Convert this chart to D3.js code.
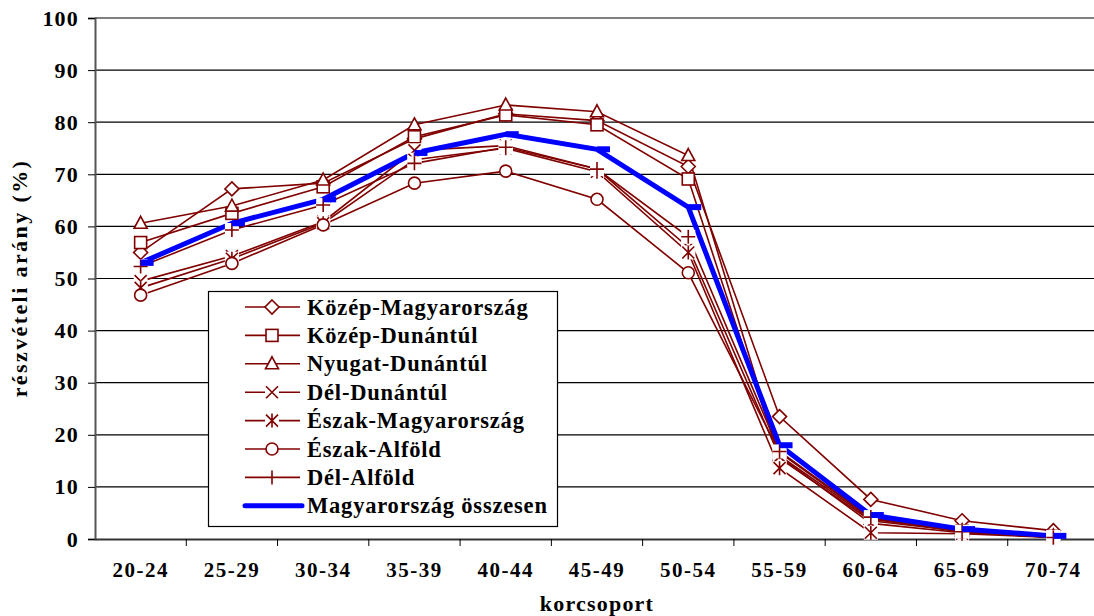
<!DOCTYPE html>
<html><head><meta charset="utf-8">
<script src="https://cdn.jsdelivr.net/npm/d3@7"></script>
<style>
html,body{margin:0;padding:0;background:#fff;}
svg text{font-family:"Liberation Serif","Times New Roman",serif !important;font-weight:bold;}
</style></head>
<body><svg id="c" width="1094" height="616"></svg>
<script>
// ---- data ----
const ageGroups = ["20-24","25-29","30-34","35-39","40-44","45-49","50-54","55-59","60-64","65-69","70-74"];
const seriesNames = ["Közép-Magyarország","Közép-Dunántúl","Nyugat-Dunántúl","Dél-Dunántúl","Észak-Magyarország","Észak-Alföld","Dél-Alföld","Magyarország összesen"];
const kozepMagyarorszag = [55.0, 67.2, 68.3, 76.8, 81.6, 80.3, 71.5, 23.5, 7.6, 3.5, 1.6];
const kozepDunantul     = [56.9, 62.5, 67.6, 77.2, 81.4, 79.5, 69.1, 15.5, 3.5, 1.5, 0.5];
const nyugatDunantul    = [60.6, 63.9, 68.9, 79.5, 83.3, 82.0, 73.6, 16.0, 3.8, 1.6, 0.6];
const delDunantul       = [49.5, 54.3, 60.9, 74.6, 75.5, 71.0, 56.0, 15.8, 3.0, 1.2, 0.4];
const eszakMagyarorszag = [48.2, 53.8, 60.6, 72.8, 75.0, 70.5, 55.0, 13.6, 1.2, 1.0, 0.3];
const eszakAlfold       = [46.8, 52.9, 60.3, 68.3, 70.6, 65.2, 51.1, 16.6, 4.0, 1.3, 0.3];
const delAlfold         = [52.3, 59.3, 64.1, 72.1, 75.2, 71.0, 58.0, 16.8, 4.2, 1.4, 0.3];
const magyarorszag      = [53.0, 60.6, 65.2, 74.1, 77.7, 74.8, 63.7, 18.0, 4.6, 1.9, 0.6];
const markerTypes = ["diamond","square","triangle","x","asterisk","circle","plus","dash"];
const yTicks = [0,10,20,30,40,50,60,70,80,90,100];
const xTitle = "korcsoport";
const yTitle = "részvételi arány (%)";

const allSeries = [kozepMagyarorszag,kozepDunantul,nyugatDunantul,delDunantul,eszakMagyarorszag,eszakAlfold,delAlfold,magyarorszag];

// ---- layout ----
const DARK = "#800000", BLUE = "#0000ff";
const svg = d3.select("#c");
const x = d3.scaleBand().domain(ageGroups).range([95, 1099]);
const y = d3.scaleLinear().domain([0,100]).range([539, 18]);
const cx = d => x(d) + x.bandwidth()/2;

// gridlines
svg.append("g").selectAll("line").data(yTicks.filter(t=>t>0)).join("line")
  .attr("x1",95).attr("x2",1094).attr("y1",d=>y(d)).attr("y2",d=>y(d))
  .attr("stroke","#000").attr("stroke-width",1.2);

// axes
const yAxis = d3.axisLeft(y).tickValues(yTicks).tickSize(7).tickPadding(9).tickFormat(d3.format("d"));
const gy = svg.append("g").attr("transform","translate(95,0)").call(yAxis);
gy.attr("font-family",null);
gy.select(".domain").attr("stroke","#555").attr("stroke-width",2);
gy.selectAll(".tick line").attr("stroke","#000");
gy.selectAll("text").attr("font-size",22).attr("fill","#000").attr("style","letter-spacing:1.2px");

const xAxis = d3.axisBottom(x).tickSize(0).tickPadding(23);
const gx = svg.append("g").attr("transform","translate(0,539)").call(xAxis);
gx.attr("font-family",null);
gx.select(".domain").attr("stroke","#333").attr("stroke-width",2);
gx.selectAll("text").attr("font-size",21).attr("fill","#000").attr("style","letter-spacing:1.5px");
// tick marks at band boundaries
svg.append("g").selectAll("line").data(ageGroups.slice(1)).join("line")
  .attr("x1",d=>x(d)).attr("x2",d=>x(d)).attr("y1",539).attr("y2",546)
  .attr("stroke","#000").attr("stroke-width",1);

// titles
svg.append("text").attr("x",597).attr("y",611).attr("text-anchor","middle")
  .attr("font-size",22).attr("style","letter-spacing:1.2px").text(xTitle);
svg.append("text").attr("transform","translate(27,278) rotate(-90)").attr("text-anchor","middle")
  .attr("font-size",22).attr("style","letter-spacing:2.4px").text(yTitle);

// lines
const line = d3.line().x((d,i)=>cx(ageGroups[i])).y(d=>y(d));
allSeries.forEach((s,k)=>{
  svg.append("path").attr("d",line(s)).attr("fill","none")
    .attr("stroke", k===7?BLUE:DARK).attr("stroke-width", k===7?5:1.6)
    .attr("stroke-linejoin","miter");
});

// markers
function marker(g, type, px, py){
  const s = 6;
  if(type==="diamond"){
    g.append("path").attr("d",`M${px},${py-7}L${px+7},${py}L${px},${py+7}L${px-7},${py}Z`)
      .attr("fill","#fff").attr("stroke",DARK).attr("stroke-width",1.6);
  } else if(type==="square"){
    g.append("rect").attr("x",px-s).attr("y",py-s).attr("width",2*s).attr("height",2*s)
      .attr("fill","#fff").attr("stroke",DARK).attr("stroke-width",1.6);
  } else if(type==="triangle"){
    g.append("path").attr("d",`M${px},${py-7}L${px+6.5},${py+5}L${px-6.5},${py+5}Z`)
      .attr("fill","#fff").attr("stroke",DARK).attr("stroke-width",1.6);
  } else if(type==="circle"){
    g.append("circle").attr("cx",px).attr("cy",py).attr("r",s)
      .attr("fill","#fff").attr("stroke",DARK).attr("stroke-width",1.6);
  } else if(type==="x"||type==="asterisk"||type==="plus"){
    g.append("rect").attr("x",px-7).attr("y",py-7).attr("width",14).attr("height",14).attr("fill","#fff");
    let d="";
    if(type!=="plus") d+=`M${px-s},${py-s}L${px+s},${py+s}M${px+s},${py-s}L${px-s},${py+s}`;
    if(type==="asterisk") d+=`M${px},${py-s-1}L${px},${py+s+1}`;
    if(type==="plus") d+=`M${px-s-1},${py}L${px+s+1},${py}M${px},${py-s-1}L${px},${py+s+1}`;
    g.append("path").attr("d",d).attr("stroke",DARK).attr("stroke-width",1.6).attr("fill","none");
  } else if(type==="dash"){
    g.append("rect").attr("x",px).attr("y",py-3).attr("width",13).attr("height",6).attr("fill",BLUE);
  }
}
const mg = svg.append("g");
allSeries.forEach((s,k)=>{
  s.forEach((v,i)=>marker(mg, markerTypes[k], cx(ageGroups[i]), y(v)));
});

// legend
const lg = svg.append("g");
lg.append("rect").attr("x",208.5).attr("y",291.5).attr("width",349).attr("height",235)
  .attr("fill","#fff").attr("stroke","#000").attr("stroke-width",1.2);
seriesNames.forEach((name,k)=>{
  const ry = 307 + k*28.4;
  if(k===7){
    lg.append("line").attr("x1",245).attr("x2",302).attr("y1",ry).attr("y2",ry)
      .attr("stroke",BLUE).attr("stroke-width",5).attr("stroke-linecap","round");
  } else {
    lg.append("line").attr("x1",245).attr("x2",300).attr("y1",ry).attr("y2",ry)
      .attr("stroke",DARK).attr("stroke-width",1.6);
    marker(lg, markerTypes[k], 272, ry);
  }
  lg.append("text").attr("x",307).attr("y",ry+7.5).attr("font-size",22.5)
    .attr("style","letter-spacing:0.8px").attr("fill","#000").text(name);
});
</script></body></html>
